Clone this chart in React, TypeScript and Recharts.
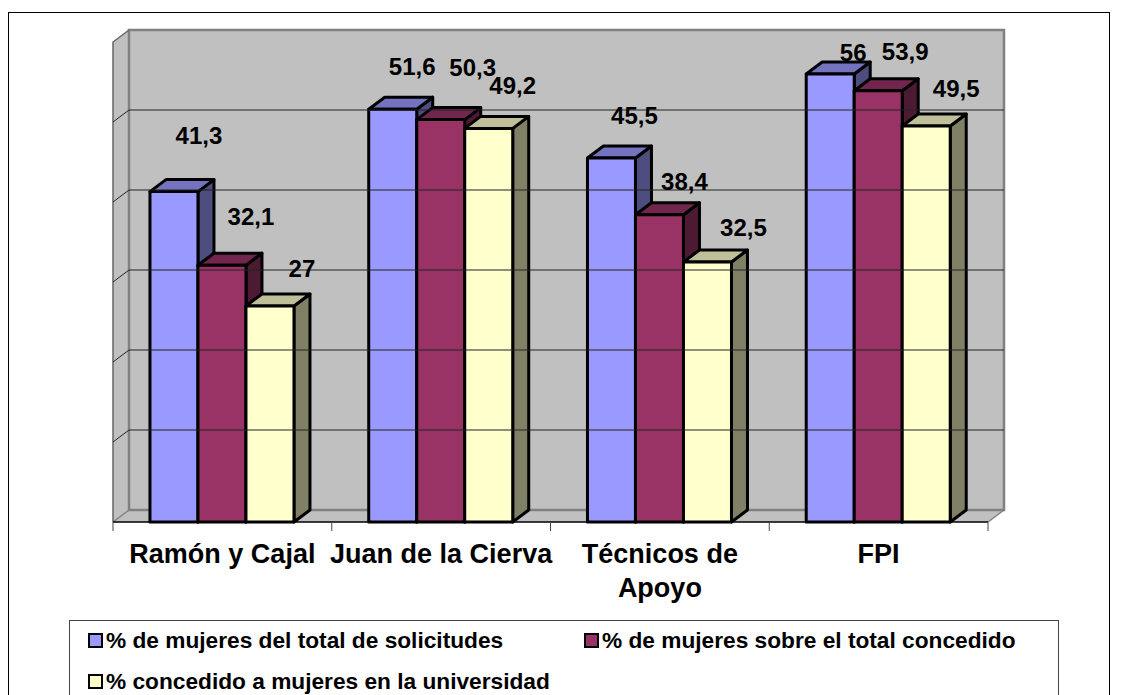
import { BarChart, Bar, XAxis, YAxis, LabelList, Legend, ReferenceLine } from "recharts";

const categories = ["Ramón y Cajal", "Juan de la Cierva", "Técnicos de Apoyo", "FPI"];
const solicitudes = [41.3, 51.6, 45.5, 56];
const concedido = [32.1, 50.3, 38.4, 53.9];
const universidad = [27, 49.2, 32.5, 49.5];
const gridTicks = [0, 10, 20, 30, 40, 50, 60];

const data = categories.map((name, i) => ({
  name,
  solicitudes: solicitudes[i],
  concedido: concedido[i],
  universidad: universidad[i],
}));

// frame of the fake 3D box
const LEFT = 113;
const RIGHT = 988;
const TOP = 42;
const FLOOR = 522;
const DX = 16;
const DY = 12;
const BAND = (RIGHT - LEFT) / categories.length;
const LEGEND_H = 90;
const FONT = "'Liberation Sans', Arial, sans-serif";

// labels float away from the bars in the original: [dx from bar centre, dy from bar top]
const nudgeSolicitudes = [[25, -56], [19.5, -43], [23, -43], [23, -22]];
const nudgeConcedido = [[29, -49], [32, -52], [25, -33], [27, -39]];
const nudgeUniversidad = [[32, -38], [24, -43], [36, -35], [30, -38]];

const Box = (props: any) => {
  const { x, y, width, height, fill, top, side } = props;
  const common = { stroke: "#000", strokeWidth: 3, strokeLinejoin: "round" as const };
  return (
    <g>
      <polygon
        points={`${x + width},${y} ${x + width + DX},${y - DY} ${x + width + DX},${y + height - DY} ${x + width},${y + height}`}
        fill={side}
        {...common}
      />
      <polygon
        points={`${x},${y} ${x + DX},${y - DY} ${x + width + DX},${y - DY} ${x + width},${y}`}
        fill={top}
        {...common}
      />
      <rect x={x} y={y} width={width} height={height} fill={fill} {...common} />
    </g>
  );
};

const GridLine = (props: any) => {
  const y = props.y1 ?? props.y;
  return (
    <path
      d={`M${LEFT},${y} L${LEFT + DX},${y - DY} L${RIGHT + DX},${y - DY}`}
      fill="none"
      stroke="#222"
      strokeWidth={1}
    />
  );
};

const makeLabel = (nudge: number[][]) => (props: any) => {
  const { x, y, width, value, index } = props;
  return (
    <text
      x={x + width / 2 + nudge[index][0]}
      y={y + nudge[index][1]}
      textAnchor="middle"
      dominantBaseline="central"
      fontFamily={FONT}
      fontWeight="bold"
      fontSize={24}
      fill="#000"
    >
      {String(value).replace(".", ",")}
    </text>
  );
};

const CategoryTick = (props: any) => {
  const { x, payload, index } = props;
  const words: string[] = payload.value === "Técnicos de Apoyo" ? ["Técnicos de", "Apoyo"] : [payload.value];
  const left = LEFT + BAND * index;
  return (
    <g>
      <line x1={left} y1={FLOOR} x2={left} y2={FLOOR + 9} stroke="#444" />
      {index === categories.length - 1 && (
        <line x1={RIGHT} y1={FLOOR} x2={RIGHT} y2={FLOOR + 9} stroke="#444" />
      )}
      {words.map((w, i) => (
        <text
          key={w}
          x={x}
          y={FLOOR + 41 + i * 33.5}
          textAnchor="middle"
          fontFamily={FONT}
          fontWeight="bold"
          fontSize={27}
          fill="#000"
        >
          {w}
        </text>
      ))}
    </g>
  );
};

const LegendBox = ({ payload }: any) => (
  <div
    style={{
      position: "relative",
      width: "100%",
      height: "100%",
      boxSizing: "border-box",
      border: "1px solid #444",
      background: "#fff",
      fontFamily: FONT,
      fontWeight: "bold",
      fontSize: 22.7,
    }}
  >
    {(payload ?? []).map((e: any, i: number) => (
      <div
        key={e.value}
        style={{
          position: "absolute",
          left: i === 1 ? 514 : 18,
          top: i === 2 ? 44 : 3,
          display: "flex",
          alignItems: "center",
          whiteSpace: "nowrap",
          height: 32,
        }}
      >
        <span
          style={{
            width: 11,
            height: 11,
            marginRight: 3,
            border: "2px solid #000",
            background: e.color,
          }}
        />
        {e.value}
      </div>
    ))}
  </div>
);

export default function App() {
  return (
    <div style={{ position: "absolute", left: 0, top: 0, width: 1123, height: 695, overflow: "hidden", background: "#fff" }}>
      <div style={{ position: "absolute", left: 8, top: 12, width: 1102, height: 720, border: "1.5px solid #000", boxSizing: "border-box" }} />
      <BarChart
        width={1123}
        height={695}
        data={data}
        margin={{ top: TOP, right: 1123 - RIGHT, bottom: 0, left: LEFT }}
        barCategoryGap="16.9%"
        barGap={0}
        style={{ position: "absolute", left: 0, top: 0 }}
      >
        {/* walls and floor */}
        <polygon points={`${LEFT},${TOP} ${LEFT + DX},${TOP - DY} ${LEFT + DX},${FLOOR - DY} ${LEFT},${FLOOR}`} fill="#c0c0c0" />
        <polygon points={`${LEFT},${FLOOR} ${LEFT + DX},${FLOOR - DY} ${RIGHT + DX},${FLOOR - DY} ${RIGHT},${FLOOR}`} fill="#c0c0c0" />
        <rect x={LEFT + DX} y={TOP - DY} width={RIGHT - LEFT} height={FLOOR - TOP} fill="#c0c0c0" stroke="#808080" strokeWidth={2.5} />
        <polyline points={`${LEFT + DX},${TOP - DY} ${LEFT},${TOP} ${LEFT},${FLOOR}`} fill="none" stroke="#666" strokeWidth={1.5} />
        <polyline points={`${LEFT},${FLOOR} ${LEFT + DX},${FLOOR - DY}`} fill="none" stroke="#808080" strokeWidth={1.5} />
        <polyline points={`${RIGHT + DX},${FLOOR - DY} ${RIGHT},${FLOOR}`} fill="none" stroke="#808080" strokeWidth={1.5} />
        <XAxis dataKey="name" interval={0} tickLine={false} axisLine={{ stroke: "#000", strokeWidth: 1.5 }} tick={<CategoryTick />} height={695 - FLOOR - LEGEND_H} />
        <YAxis hide domain={[0, 60]} ticks={gridTicks} />
        {gridTicks.slice(1, -1).map((t) => (
          <ReferenceLine key={t} y={t} shape={<GridLine />} />
        ))}
        <Bar dataKey="solicitudes" name="% de mujeres del total de solicitudes" fill="#9999ff" isAnimationActive={false} shape={<Box top="#7373bf" side="#4d4d80" />}>
          <LabelList dataKey="solicitudes" content={makeLabel(nudgeSolicitudes)} />
        </Bar>
        <Bar dataKey="concedido" name="% de mujeres sobre el total concedido" fill="#993366" isAnimationActive={false} shape={<Box top="#73264d" side="#4d1a33" />}>
          <LabelList dataKey="concedido" content={makeLabel(nudgeConcedido)} />
        </Bar>
        <Bar dataKey="universidad" name="% concedido a mujeres en la universidad" fill="#ffffcc" isAnimationActive={false} shape={<Box top="#bfbf99" side="#808066" />}>
          <LabelList dataKey="universidad" content={makeLabel(nudgeUniversidad)} />
        </Bar>
        <Legend
          content={<LegendBox />}
          itemSorter={null}
          wrapperStyle={{ position: "absolute", left: 69, top: 620, width: 990, height: LEGEND_H, bottom: "auto", right: "auto" }}
        />
      </BarChart>
    </div>
  );
}
